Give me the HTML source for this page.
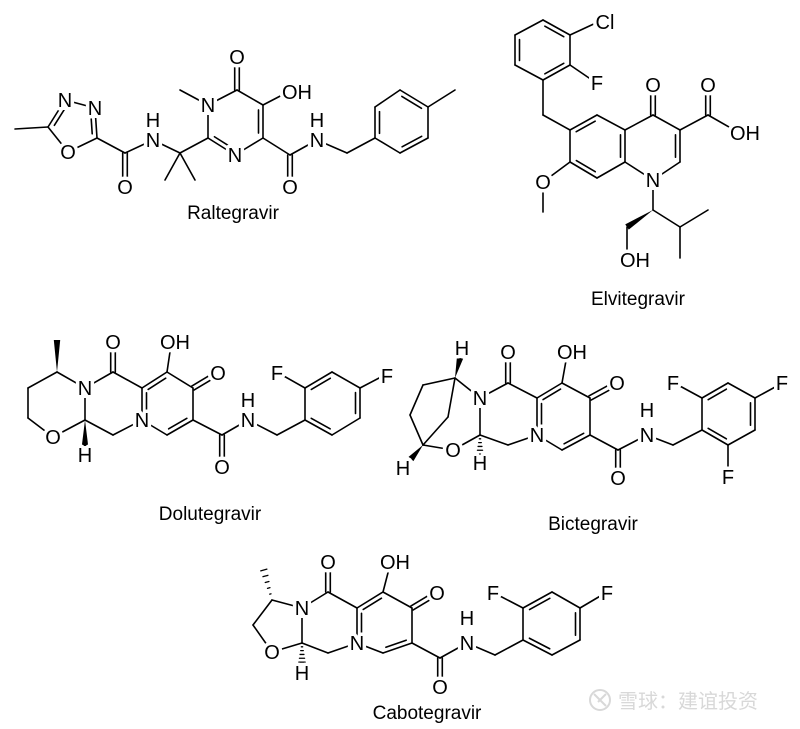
<!DOCTYPE html>
<html><head><meta charset="utf-8"><style>
html,body{margin:0;padding:0;background:#fff;}
svg{display:block;}
.a{font-family:"Liberation Sans",sans-serif;font-size:20px;fill:#000;text-anchor:middle;stroke:#fff;stroke-width:7px;paint-order:stroke;stroke-linejoin:round;}
.n{font-family:"Liberation Sans",sans-serif;font-size:19px;fill:#000;text-anchor:middle;}
.w{font-family:"Liberation Sans","Noto Sans CJK SC",sans-serif;font-size:20px;fill:#d8d8d8;}
</style></head><body>
<svg id="s" width="800" height="729" viewBox="0 0 800 729" xmlns="http://www.w3.org/2000/svg">
<g id="b" stroke="#000" stroke-width="1.6" fill="none" stroke-linecap="round"></g>
<g id="f" fill="#000"></g>
<g id="m" fill="#fff"></g>
<g id="t">
<!-- Raltegravir -->
<text class="a" x="65" y="107">N</text>
<text class="a" x="95" y="115">N</text>
<text class="a" x="68" y="159">O</text>
<text class="a" x="125" y="194">O</text>
<text class="a" x="153" y="147">N</text>
<text class="a" x="153" y="127">H</text>
<text class="a" x="208" y="112">N</text>
<text class="a" x="237" y="64">O</text>
<text class="a" x="297" y="99">OH</text>
<text class="a" x="235" y="162">N</text>
<text class="a" x="290" y="194">O</text>
<text class="a" x="317" y="147">N</text>
<text class="a" x="317" y="127">H</text>
<!-- Elvitegravir -->
<text class="a" x="605" y="29">Cl</text>
<text class="a" x="597" y="90">F</text>
<text class="a" x="653" y="92">O</text>
<text class="a" x="708" y="92">O</text>
<text class="a" x="745" y="140">OH</text>
<text class="a" x="543" y="189">O</text>
<text class="a" x="653" y="187">N</text>
<text class="a" x="635" y="267">OH</text>
<!-- Dolutegravir -->
<text class="a" x="85" y="395">N</text>
<text class="a" x="53" y="444">O</text>
<text class="a" x="85" y="462">H</text>
<text class="a" x="113" y="349">O</text>
<text class="a" x="142" y="427">N</text>
<text class="a" x="175" y="349">OH</text>
<text class="a" x="218" y="380">O</text>
<text class="a" x="222" y="474">O</text>
<text class="a" x="248" y="427">N</text>
<text class="a" x="248" y="407">H</text>
<text class="a" x="277" y="380">F</text>
<text class="a" x="387" y="383">F</text>
<!-- Bictegravir -->
<text class="a" x="462" y="355">H</text>
<text class="a" x="480" y="405">N</text>
<text class="a" x="453" y="457">O</text>
<text class="a" x="403" y="475">H</text>
<text class="a" x="480" y="470">H</text>
<text class="a" x="508" y="359">O</text>
<text class="a" x="537" y="442">N</text>
<text class="a" x="572" y="359">OH</text>
<text class="a" x="617" y="390">O</text>
<text class="a" x="618" y="485">O</text>
<text class="a" x="647" y="442">N</text>
<text class="a" x="647" y="417">H</text>
<text class="a" x="673" y="390">F</text>
<text class="a" x="782" y="390">F</text>
<text class="a" x="728" y="484">F</text>
<!-- Cabotegravir -->
<text class="a" x="302" y="615">N</text>
<text class="a" x="272" y="659">O</text>
<text class="a" x="302" y="680">H</text>
<text class="a" x="328" y="569">O</text>
<text class="a" x="357" y="650">N</text>
<text class="a" x="395" y="569">OH</text>
<text class="a" x="437" y="600">O</text>
<text class="a" x="440" y="694">O</text>
<text class="a" x="467" y="650">N</text>
<text class="a" x="467" y="625">H</text>
<text class="a" x="493" y="600">F</text>
<text class="a" x="607" y="600">F</text>
</g>
<text class="n" x="233" y="219">Raltegravir</text>
<text class="n" x="638" y="305">Elvitegravir</text>
<text class="n" x="210" y="520">Dolutegravir</text>
<text class="n" x="593" y="530">Bictegravir</text>
<text class="n" x="427" y="719">Cabotegravir</text>
<!-- watermark -->
<circle cx="600" cy="700" r="10" fill="none" stroke="#d8d8d8" stroke-width="2"/>
<path d="M594 694 L606 706 M606 694 L598 702" stroke="#d8d8d8" stroke-width="2" fill="none"/>
<text class="w" x="618" y="708">雪球：建谊投资</text>
</svg>
<script>
var NS="http://www.w3.org/2000/svg",B=document.getElementById('b'),F=document.getElementById('f');
function L(a,b,c,d){var e=document.createElementNS(NS,'line');e.setAttribute('x1',a);e.setAttribute('y1',b);e.setAttribute('x2',c);e.setAttribute('y2',d);B.appendChild(e);}
function D(a,b,c,d,cx,cy){L(a,b,c,d);var dx=c-a,dy=d-b,l=Math.hypot(dx,dy),nx=-dy/l,ny=dx/l,mx=(a+c)/2,my=(b+d)/2;if((cx-mx)*nx+(cy-my)*ny<0){nx=-nx;ny=-ny;}var o=4.5,s=0.15;L(a+dx*s+nx*o,b+dy*s+ny*o,c-dx*s+nx*o,d-dy*s+ny*o);}
function E(a,b,c,d){var dx=c-a,dy=d-b,l=Math.hypot(dx,dy),nx=-dy/l*2.3,ny=dx/l*2.3;L(a+nx,b+ny,c+nx,d+ny);L(a-nx,b-ny,c-nx,d-ny);}
function P(pts){for(var i=0;i<pts.length-1;i++)L(pts[i][0],pts[i][1],pts[i+1][0],pts[i+1][1]);}
function W(a,b,c,d){var dx=c-a,dy=d-b,l=Math.hypot(dx,dy),nx=-dy/l*3.2,ny=dx/l*3.2;var p=document.createElementNS(NS,'polygon');p.setAttribute('points',a+','+b+' '+(c+nx)+','+(d+ny)+' '+(c-nx)+','+(d-ny));F.appendChild(p);}
function H(a,b,c,d){var dx=c-a,dy=d-b,l=Math.hypot(dx,dy),ux=-dy/l,uy=dx/l;for(var i=1;i<=5;i++){var t=i/5.5,w=3.5*t,x=a+dx*t,y=b+dy*t;var e=document.createElementNS(NS,'line');e.setAttribute('x1',x+ux*w);e.setAttribute('y1',y+uy*w);e.setAttribute('x2',x-ux*w);e.setAttribute('y2',y-uy*w);e.setAttribute('stroke-width','1.3');B.appendChild(e);}}
// Raltegravir
L(15,129,48,127);D(48,127,65,100,72,125);L(65,100,95,108);D(95,108,97,138,72,125);L(97,138,68,152);L(68,152,48,127);
L(97,138,125,153);E(125,153,125,187);L(125,153,153,140);L(153,140,180,153);L(180,153,165,180);L(180,153,195,180);L(180,153,208,138);
D(208,138,235,155,236,122);L(235,155,263,138);D(263,138,263,105,236,122);L(263,105,237,90);L(237,90,208,105);L(208,105,208,138);
E(237,90,237,57);L(208,105,180,90);L(263,105,288,92);L(263,138,290,155);E(290,155,290,187);L(290,155,317,140);L(317,140,347,153);L(347,153,375,138);
D(375,138,375,107,401,122);L(375,107,400,90);D(400,90,428,107,401,122);L(428,107,428,138);D(428,138,400,153,401,122);L(400,153,375,138);L(428,107,455,90);
// Elvitegravir
D(543,20,570,35,543,50);L(570,35,570,65);D(570,65,543,80,543,50);L(543,80,515,65);D(515,65,515,35,543,50);L(515,35,543,20);
L(570,35,598,22);L(570,65,592,80);L(543,80,543,115);L(543,115,570,130);
D(570,130,597,115,597,146);L(597,115,625,130);D(625,130,625,162,597,146);L(625,162,597,178);D(597,178,570,162,597,146);L(570,162,570,130);
L(625,130,653,115);L(653,115,680,130);D(680,130,680,162,653,146);L(680,162,653,180);L(653,180,625,162);
E(653,115,653,85);L(680,130,708,115);E(708,115,708,85);L(708,115,736,131);
L(570,162,543,182);L(543,182,543,212);L(653,180,653,210);W(653,210,627,227);L(627,227,627,250);
L(653,210,680,227);L(680,227,708,210);L(680,227,680,258);
// Dolutegravir
W(57,372,57,340);P([[57,372],[28,388],[28,418],[53,437],[85,420],[85,388],[57,372]]);W(85,420,85,446);
L(85,388,113,372);E(113,372,113,342);L(113,372,142,388);L(85,420,113,435);L(113,435,142,420);
D(142,388,167,372,167,404);L(167,372,193,388);L(193,388,193,420);D(193,420,167,435,167,404);L(167,435,142,420);D(142,420,142,388,167,404);
L(167,372,171,345);E(193,388,213,376);L(193,420,222,435);E(222,435,222,467);L(222,435,248,420);L(248,420,277,435);L(277,435,305,420);
L(305,420,305,388);D(305,388,332,372,332,404);L(332,372,360,388);D(360,388,360,418,332,404);L(360,418,332,435);D(332,435,305,420,332,404);
L(305,388,282,375);L(360,388,381,377);
// Bictegravir
W(455,378,460,358);L(455,378,423,385);L(423,385,410,415);L(410,415,423,445);L(455,378,448,417);L(448,417,423,445);
W(423,445,411,459);L(423,445,453,450);L(453,450,480,435);H(480,435,480,456);L(480,435,480,398);L(480,398,455,378);
L(480,398,508,383);E(508,383,508,352);L(508,383,537,398);L(480,435,508,445);L(508,445,537,435);
D(537,398,562,383,563,417);L(562,383,590,398);L(590,398,590,435);D(590,435,562,450,563,417);L(562,450,537,435);D(537,435,537,398,563,417);
L(562,383,567,355);E(590,398,612,386);L(590,435,618,450);E(618,450,618,478);L(618,450,647,435);L(647,435,673,445);L(673,445,702,430);
L(702,430,702,398);D(702,398,728,383,728,414);L(728,383,755,398);D(755,398,755,430,728,414);L(755,430,728,445);D(728,445,702,430,728,414);
L(702,398,678,385);L(755,398,777,386);L(728,445,728,468);
// Cabotegravir
H(272,600,263,567);L(272,600,302,608);L(302,608,302,643);L(302,643,272,652);L(272,652,253,625);L(253,625,272,600);H(302,643,302,664);
L(302,608,328,592);E(328,592,328,562);L(328,592,357,608);L(302,643,328,653);L(328,653,357,643);
D(357,608,383,592,384,625);L(383,592,412,608);L(412,608,412,643);D(412,643,383,653,384,625);L(383,653,357,643);D(357,643,357,608,384,625);
L(383,592,390,565);E(412,608,432,596);L(412,643,440,658);E(440,658,440,687);L(440,658,467,643);L(467,643,495,655);L(495,655,523,640);
L(523,640,523,608);D(523,608,552,592,551,624);L(552,592,580,608);D(580,608,580,640,551,624);L(580,640,552,655);D(552,655,523,640,551,624);
L(523,608,498,595);L(580,608,602,595);
// white masks behind atom labels
var M=document.getElementById('m');
document.querySelectorAll('#t text').forEach(function(t){var bb=t.getBBox();var r=document.createElementNS(NS,'rect');r.setAttribute('x',bb.x+1);r.setAttribute('y',bb.y+3);r.setAttribute('width',bb.width-2);r.setAttribute('height',bb.height-5);M.appendChild(r);});
</script>
</body></html>
